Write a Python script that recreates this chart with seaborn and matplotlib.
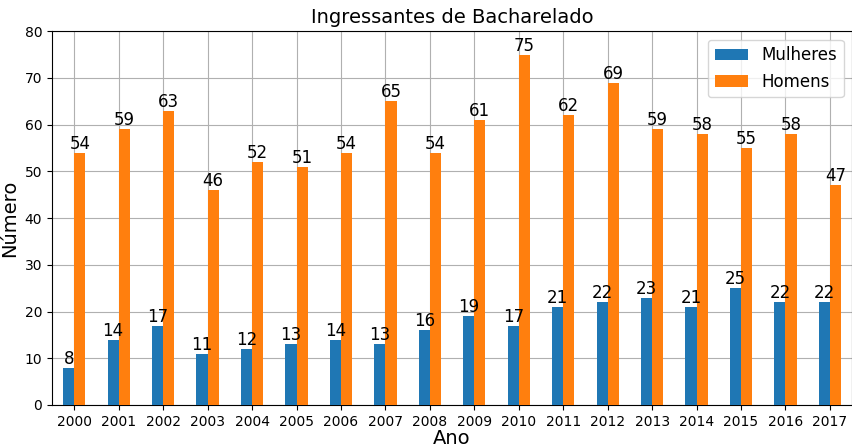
import seaborn as sns
import numpy as np
import pandas as pd
import matplotlib.pyplot as plt

anos = [2000, 2001, 2002, 2003, 2004, 2005, 2006, 2007, 2008,
        2009, 2010, 2011, 2012, 2013, 2014, 2015, 2016, 2017]
mulheres = [8, 14, 17, 11, 12, 13, 14, 13, 16, 19, 17, 21, 22, 23, 21, 25, 22, 22]
homens = [54, 59, 63, 46, 52, 51, 54, 65, 54, 61, 75, 62, 69, 59, 58, 55, 58, 47]

df = pd.DataFrame({"Ano": anos * 2,
                   "Número": mulheres + homens,
                   "Sexo": ["Mulheres"] * len(anos) + ["Homens"] * len(anos)})

fig, ax = plt.subplots(figsize=(8.53, 4.46), dpi=100)
sns.barplot(data=df, x="Ano", y="Número", hue="Sexo", ax=ax,
            palette=["#1f77b4", "#ff7f0e"], width=0.5, saturation=1,
            zorder=3)
ax.set_axisbelow(True)
ax.grid(True, color="#b0b0b0", linewidth=0.8)

# rótulos de valor em cima de cada barra
for cont in ax.containers:
    ax.bar_label(cont, fontsize=12, padding=0)

ax.set_ylim(0, 80)
ax.set_xlim(-0.5, len(anos) - 0.5)
ax.set_title("Ingressantes de Bacharelado", fontsize=14)
ax.set_xlabel("Ano", fontsize=14, labelpad=0)
ax.set_ylabel("Número", fontsize=14)
ax.tick_params(labelsize=10)
ax.legend(title=None, fontsize=12, loc="upper right")

fig.subplots_adjust(left=0.061, right=0.999, top=0.930, bottom=0.092)
fig.savefig("out.png", dpi=100)
